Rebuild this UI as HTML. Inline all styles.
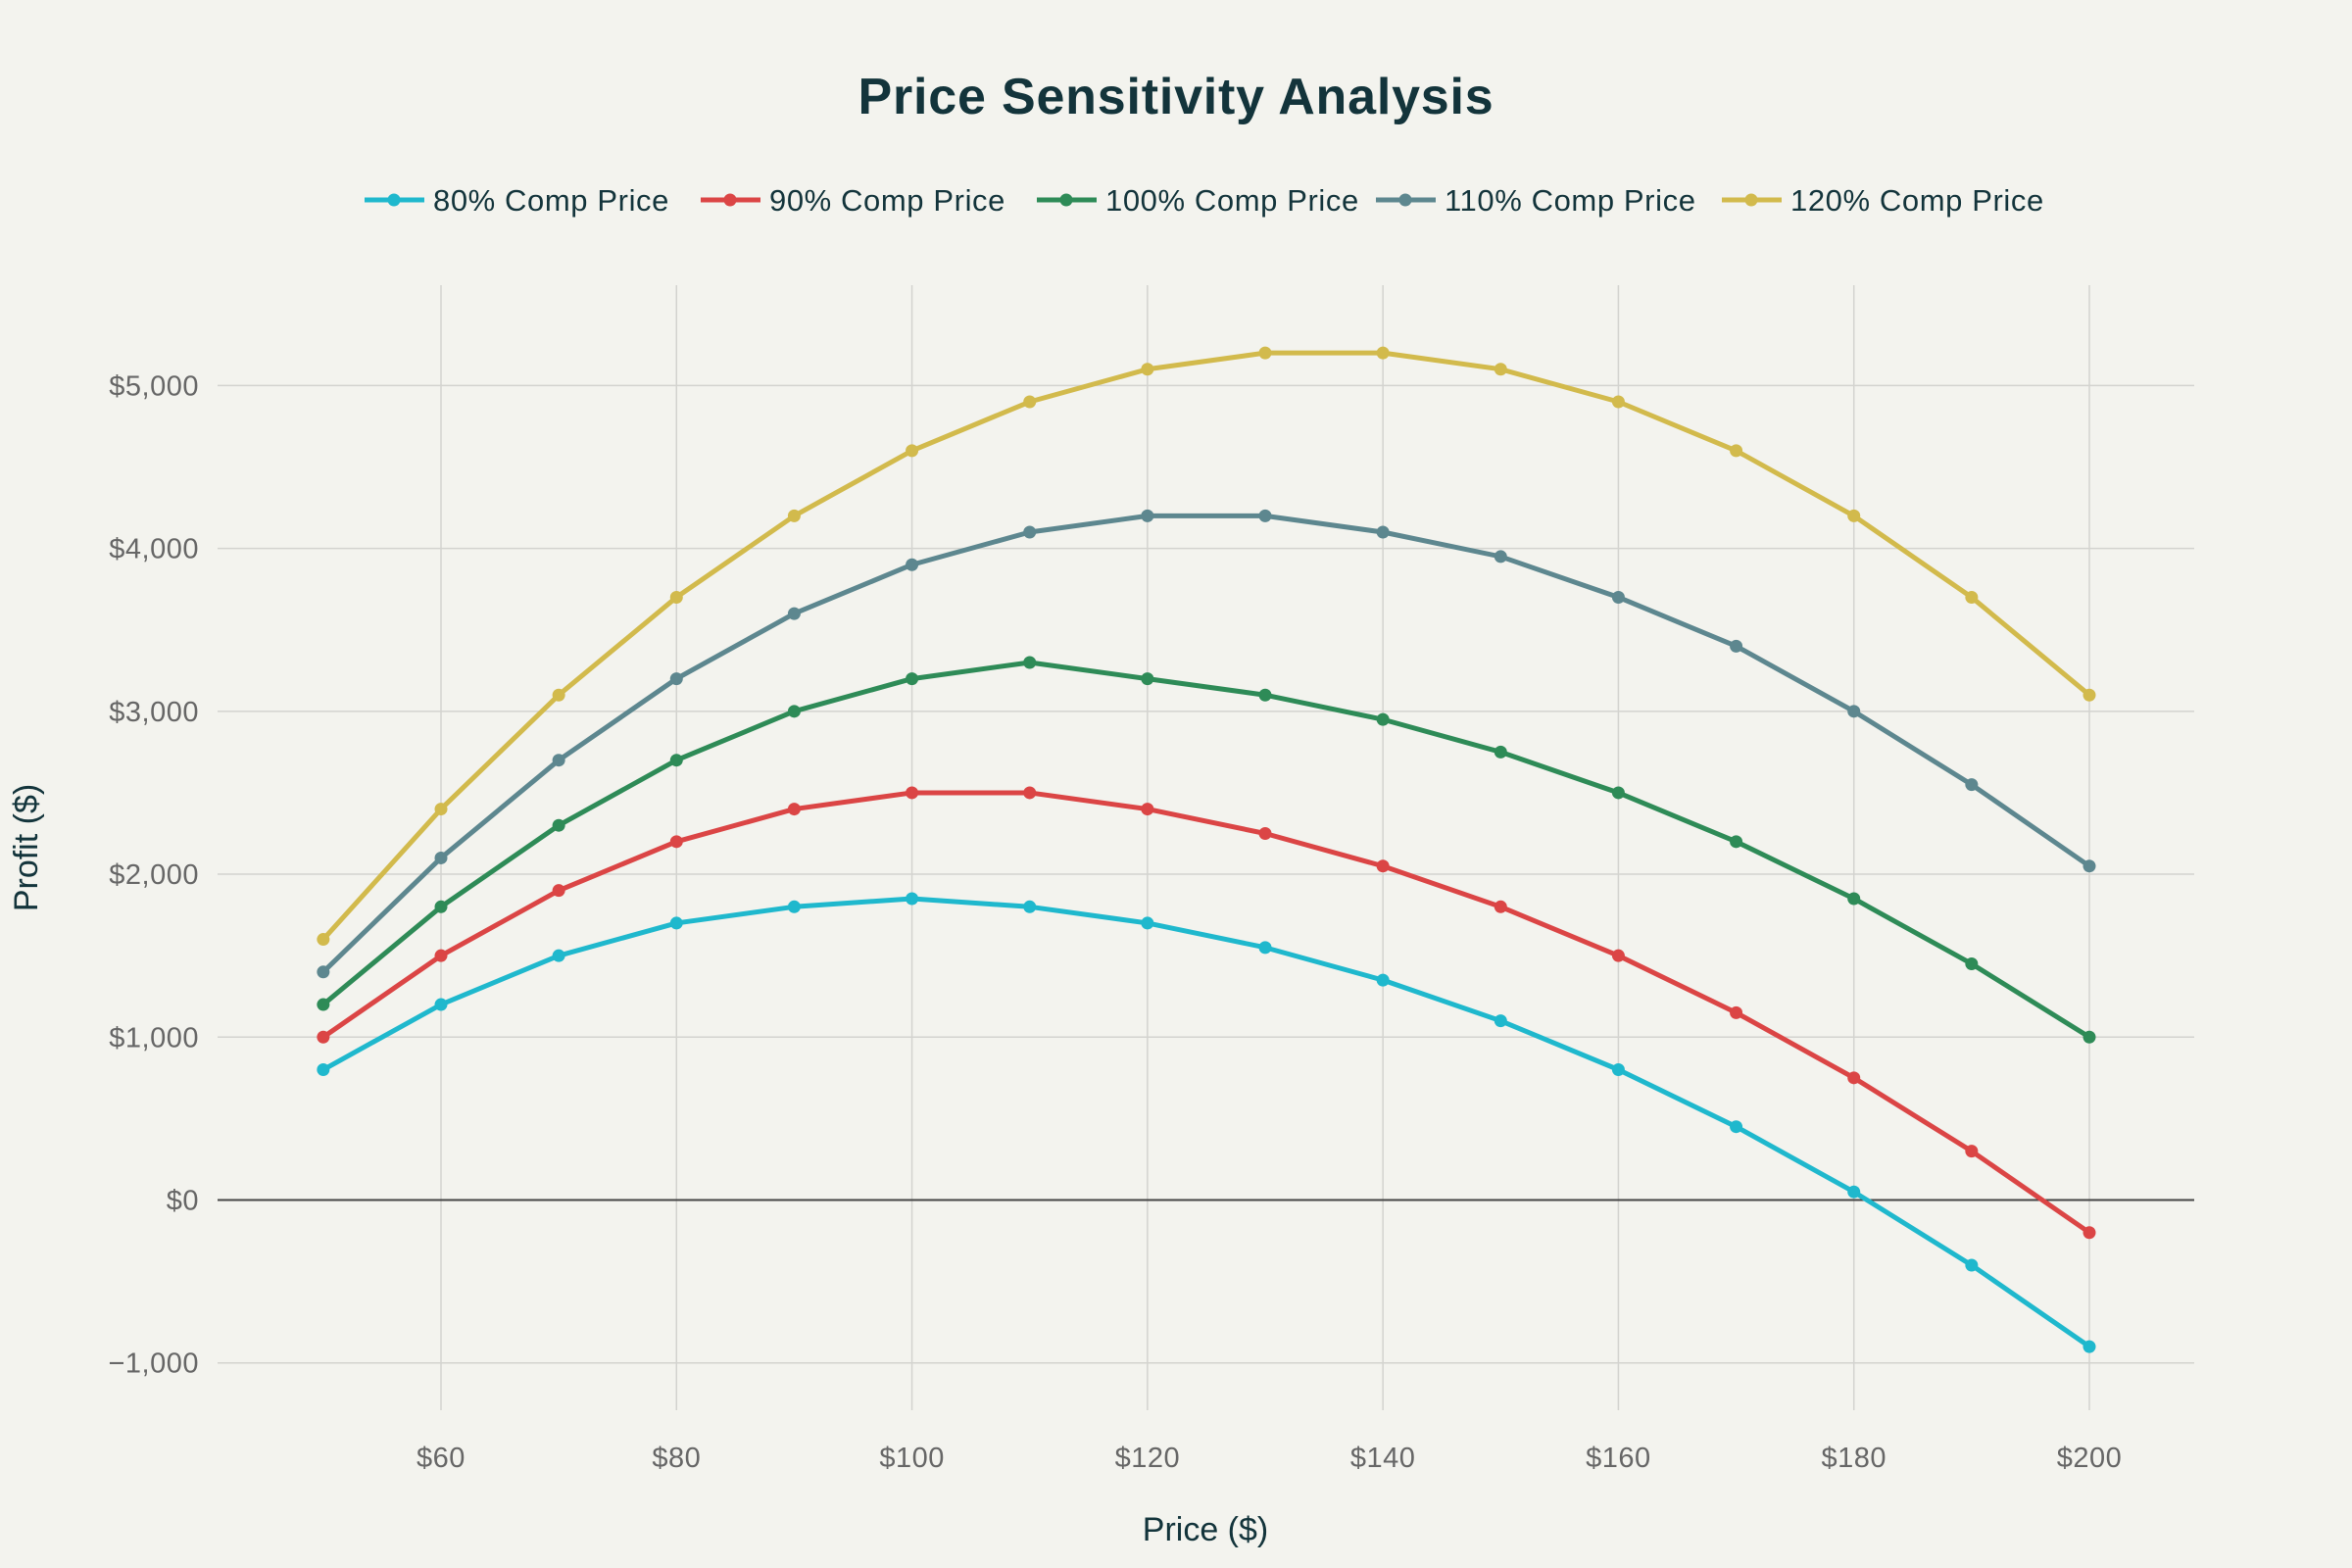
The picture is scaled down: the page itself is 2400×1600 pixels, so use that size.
<!DOCTYPE html>
<html><head><meta charset="utf-8"><style>
html,body{margin:0;padding:0;background:#F3F3EE;}
svg{display:block;font-family:"Liberation Sans",sans-serif;}
</style></head><body>
<svg id="chart" width="2400" height="1600" viewBox="0 0 2400 1600">
<rect width="2400" height="1600" fill="#F3F3EE"/>
<text x="1200" y="116" text-anchor="middle" font-size="52" font-weight="bold" letter-spacing="0.8" fill="#13343B">Price Sensitivity Analysis</text>
<g id="grid"></g>
<g id="series"></g>
<g id="legend"></g>
<text x="1230" y="1572" text-anchor="middle" font-size="34" fill="#13343B">Price ($)</text>
<text transform="translate(38,865) rotate(-90)" text-anchor="middle" font-size="34" fill="#13343B">Profit ($)</text>
</svg>
<script>
const prices=[50,60,70,80,90,100,110,120,130,140,150,160,170,180,190,200];
const s80=[800,1200,1500,1700,1800,1850,1800,1700,1550,1350,1100,800,450,50,-400,-900];
const s90=[1000,1500,1900,2200,2400,2500,2500,2400,2250,2050,1800,1500,1150,750,300,-200];
const s100=[1200,1800,2300,2700,3000,3200,3300,3200,3100,2950,2750,2500,2200,1850,1450,1000];
const s110=[1400,2100,2700,3200,3600,3900,4100,4200,4200,4100,3950,3700,3400,3000,2550,2050];
const s120=[1600,2400,3100,3700,4200,4600,4900,5100,5200,5200,5100,4900,4600,4200,3700,3100];
const seriesNames=["80% Comp Price","90% Comp Price","100% Comp Price","110% Comp Price","120% Comp Price"];
const xTicks=[60,80,100,120,140,160,180,200];
const xTickLabels=["$60","$80","$100","$120","$140","$160","$180","$200"];
const yTicks=[-1000,0,1000,2000,3000,4000,5000];
const yTickLabels=["\u22121,000","$0","$1,000","$2,000","$3,000","$4,000","$5,000"];

const colors=["#1FB8CD","#DB4545","#2E8B57","#5D878F","#D2BA4C"];
const allSeries=[s80,s90,s100,s110,s120];
const L=222,R=2239,T=291,B=1439;
const X=v=>450+(v-60)*(2132-450)/140;
const Y=v=>1224.5-v*(1224.5-393.4)/5000;
const NS="http://www.w3.org/2000/svg";
function mk(tag,attrs,parent){const e=document.createElementNS(NS,tag);for(const k in attrs)e.setAttribute(k,attrs[k]);parent.appendChild(e);return e;}
const grid=document.getElementById('grid');
xTicks.forEach((t,i)=>{
  const l=mk('line',{x1:X(t),x2:X(t),y1:T,y2:B,stroke:'#D3D3CF','stroke-width':1.5},grid);
  
  
  const tx=mk('text',{x:X(t),y:1497,'text-anchor':'middle','font-size':29,'letter-spacing':0.5,fill:'#666'},grid);
  tx.textContent=xTickLabels[i];
  
  
});
yTicks.forEach((t,i)=>{
  const l=mk('line',{x1:L,x2:R,y1:Y(t),y2:Y(t),stroke:t===0?'#444':'#D3D3CF','stroke-width':t===0?2:1.5},grid);
  
  
  const tx=mk('text',{x:203,y:Y(t)+10,'text-anchor':'end','font-size':29,'letter-spacing':0.5,fill:'#666'},grid);
  tx.textContent=yTickLabels[i];
  
  
});
const sg=document.getElementById('series');
allSeries.forEach((s,si)=>{
  const g=mk('g',{},sg);
  
  
  const pts=s.map((v,i)=>X(prices[i])+','+Y(v)).join(' ');
  const pl=mk('polyline',{points:pts,fill:'none',stroke:colors[si],'stroke-width':5,'stroke-linejoin':'round'},g);
  
  
  s.forEach((v,i)=>{
    const c=mk('circle',{cx:X(prices[i]),cy:Y(v),r:6.5,fill:colors[si]},g);
    
    
  });
});
const lg=document.getElementById('legend');
const lx=[372,715,1058,1404,1757];
seriesNames.forEach((n,i)=>{
  const g=mk('g',{},lg);
  
  
  mk('line',{x1:lx[i],x2:lx[i]+61,y1:204,y2:204,stroke:colors[i],'stroke-width':5},g);
  mk('circle',{cx:lx[i]+30,cy:204,r:6.5,fill:colors[i]},g);
  const t=mk('text',{x:lx[i]+70,y:215,'font-size':31,'letter-spacing':0.6,fill:'#13343B'},g);
  t.textContent=n;
});
</script>
</body></html>
